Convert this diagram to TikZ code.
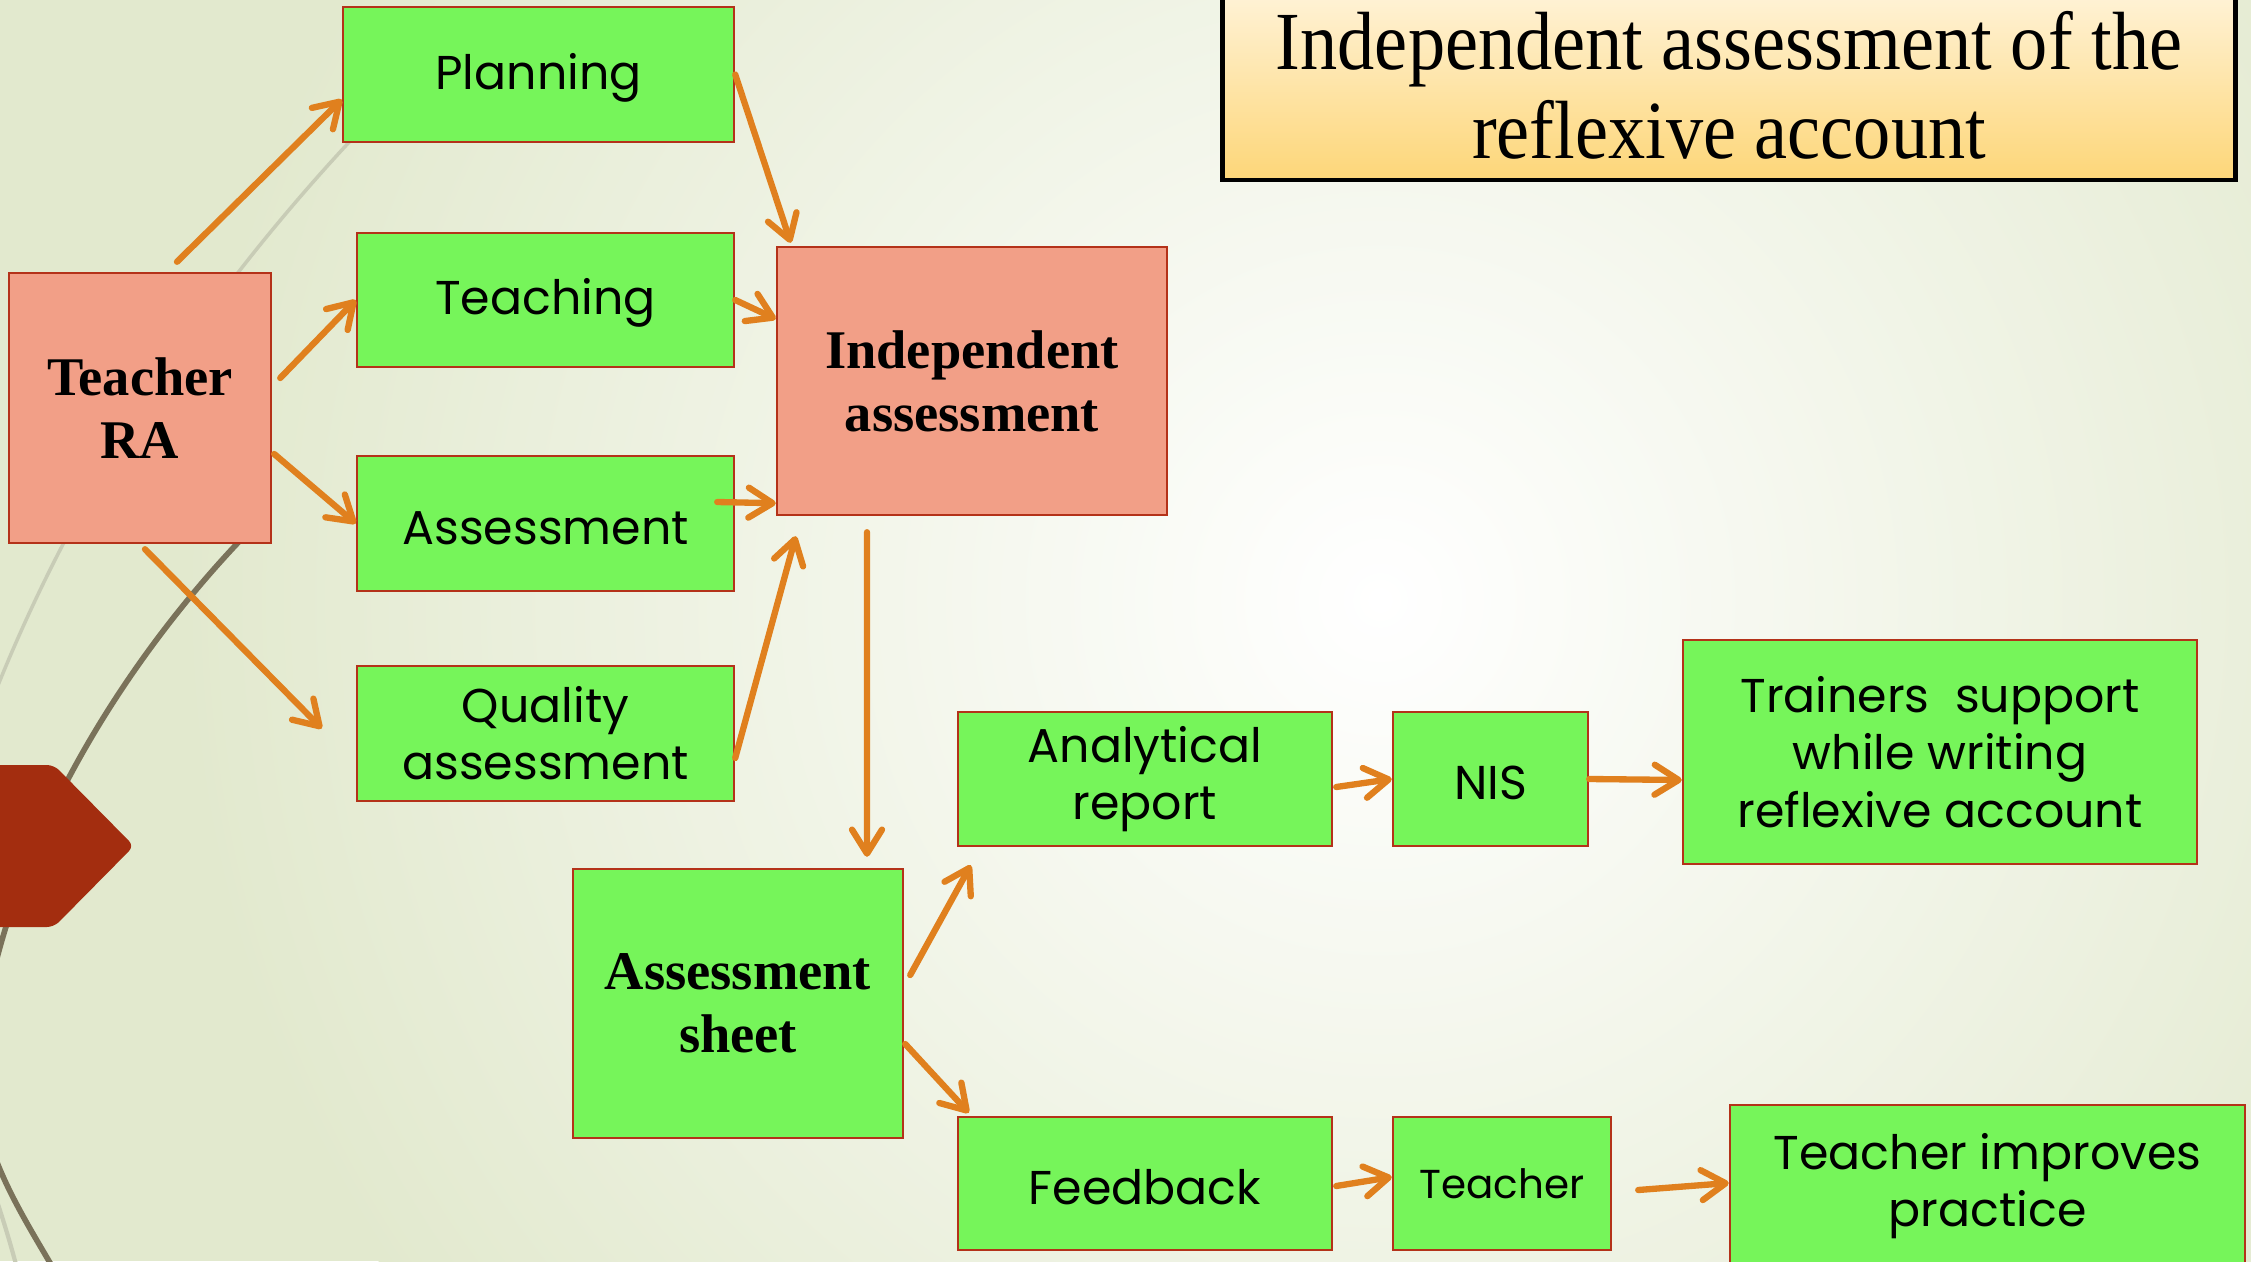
\documentclass[tikz,border=0pt]{standalone}
\usepackage{fontspec}
\setmainfont{Liberation Serif}
\newfontfamily\gothic{Poppins}
\newfontfamily\titlefont{Liberation Serif}[FakeStretch=0.9]
\usetikzlibrary{positioning}
\usetikzlibrary{calc}
\usetikzlibrary{arrows.meta}

\definecolor{boxgreen}{RGB}{118,245,90}
\definecolor{boxsalmon}{RGB}{242,159,135}
\definecolor{boxedge}{RGB}{180,50,25}
\definecolor{flowline}{RGB}{224,128,30}
\definecolor{bgedge}{RGB}{226,233,206}
\definecolor{wispdark}{RGB}{122,114,90}
\definecolor{wisplight}{RGB}{200,204,182}
\definecolor{hexred}{RGB}{163,45,15}
\definecolor{titletop}{RGB}{255,243,216}
\definecolor{titlebot}{RGB}{253,214,120}

\tikzset{
  plainbox/.style={draw=boxedge, fill=boxgreen, line width=0.7pt, inner sep=0pt,
    align=center, font=\gothic\fontsize{13.5}{16.3}\selectfont},
  greenbox/.style={plainbox, execute at begin node={\rule{0pt}{12pt}}},
  redbox/.style={draw=boxedge, fill=boxsalmon, line width=0.7pt, inner sep=0pt,
    align=center, font=\bfseries\fontsize{15.5}{18}\selectfont},
  sheetbox/.style={plainbox, font=\bfseries\fontsize{15.5}{18}\selectfont},
  titlebox/.style={draw=black, line width=1.3pt, top color=titletop, bottom color=titlebot,
    inner sep=0pt, align=center, font=\titlefont\fontsize{23.5}{25.3}\selectfont},
  flow/.style={draw=flowline, line width=1.8pt, line cap=round,
    -{Straight Barb[length=2.4mm,width=3.0mm,round]}},
}

\begin{document}
\begin{tikzpicture}
\useasboundingbox (0,0) rectangle (22.51,-12.61);
\clip (0,0) rectangle (22.51,-12.61);

% background and theme lines
\fill[bgedge] (0,0) rectangle (22.51,-12.61);
\shade[inner color=white, outer color=bgedge] (13.8,-6.0) circle (12cm);
\draw[wisplight, line width=1pt] (4.4,-0.5) .. controls (2.2,-2.6) and (0.6,-5.0) .. (-0.3,-7.6);
\draw[wispdark, line width=1.6pt] (2.6,-5.2) .. controls (1.2,-6.6) and (0,-8.6) .. (-0.2,-10.5)
  .. controls (-0.3,-11.4) and (0.2,-12.1) .. (0.6,-12.8);
\draw[wisplight, line width=1.2pt] (-0.1,-11.8) .. controls (0,-12.1) and (0.1,-12.4) .. (0.2,-12.8);
\fill[hexred, rounded corners=2pt] (-0.2,-7.65) -- (0.54,-7.65) -- (1.34,-8.46)
  -- (0.54,-9.27) -- (-0.2,-9.27) -- cycle;

\node[titlebox, minimum width=10.13cm, minimum height=1.9cm] (title) at (17.29,-0.85)
  {Independent assessment of the\\reflexive account};

% boxes
\node[redbox, minimum width=2.62cm, minimum height=2.70cm] (ra) at (1.40,-4.08) {Teacher\\RA};
\node[greenbox, minimum width=3.91cm, minimum height=1.35cm] (plan) at (5.385,-0.745) {Planning};
\node[greenbox, minimum width=3.77cm, minimum height=1.34cm] (teach) at (5.455,-3.00) {Teaching};
\node[greenbox, minimum width=3.77cm, minimum height=1.35cm] (assess) at (5.455,-5.235) {Assessment};
\node[greenbox, minimum width=3.77cm, minimum height=1.35cm] (quality) at (5.455,-7.335) {Quality\\assessment};
\node[redbox, minimum width=3.90cm, minimum height=2.68cm] (indep) at (9.72,-3.81) {Independent\\assessment};
\node[sheetbox, minimum width=3.30cm, minimum height=2.69cm] (sheet) at (7.38,-10.035) {Assessment\\sheet};
\node[greenbox, minimum width=3.74cm, minimum height=1.34cm] (report) at (11.45,-7.79) {Analytical\\report};
\node[greenbox, minimum width=1.95cm, minimum height=1.34cm] (nis) at (14.905,-7.79) {NIS};
\node[greenbox, minimum width=5.14cm, minimum height=2.24cm] (trainers) at (19.40,-7.52)
  {Trainers~~support\\while writing\\reflexive account};
\node[greenbox, minimum width=3.74cm, minimum height=1.33cm] (feedback) at (11.45,-11.835) {Feedback};
\node[plainbox, minimum width=2.18cm, minimum height=1.33cm, font=\gothic\fontsize{11.5}{14}\selectfont]
  (teacher) at (15.02,-11.835) {Teacher};
\node[greenbox, minimum width=5.15cm, minimum height=1.62cm] (improves) at (19.875,-11.86)
  {Teacher improves\\practice};

% arrows
\draw[flow] ($(ra.north)+(0.37,0.1)$) -- ([yshift=-2.5mm]plan.west);
\draw[flow] ($(ra.east)+(0.08,0.3)$) -- (teach.west);
\draw[flow] ($(ra.east)+(0.02,-0.46)$) -- (assess.west);
\draw[flow] ($(ra.south)+(0.05,-0.05)$) -- ($(quality.west)+(-0.34,0.05)$);
\draw[flow] (plan.east) -- ($(indep.north west)+(0.15,0.03)$);
\draw[flow] (teach.east) -- ([yshift=6.2mm]indep.west);
\draw[flow] ($(assess.east)+(-0.18,0.215)$) -- ([yshift=1.3mm]indep.south west);
\draw[flow] ([yshift=-2.45mm]quality.east) -- ($(indep.south west)+(0.2,-0.2)$);
\draw[flow] ($(indep.south)+(-1.05,-0.16)$) -- ($(sheet.north)+(1.29,0.11)$);
\draw[flow] ($(sheet.east)+(0.06,0.285)$) -- ($(report.south west)+(0.14,-0.18)$);
\draw[flow] ($(sheet.east)+(0.01,-0.405)$) -- ($(feedback.north west)+(0.12,0.03)$);
\draw[flow] ($(report.east)+(0.03,-0.08)$) -- (nis.west);
\draw[flow] (nis.east) -- ([yshift=-2.8mm]trainers.west);
\draw[flow] ($(feedback.east)+(0.03,-0.025)$) -- ([yshift=0.65mm]teacher.west);
\draw[flow] ($(teacher.east)+(0.26,-0.065)$) -- ([yshift=0.3mm]improves.west);

\end{tikzpicture}
\end{document}
